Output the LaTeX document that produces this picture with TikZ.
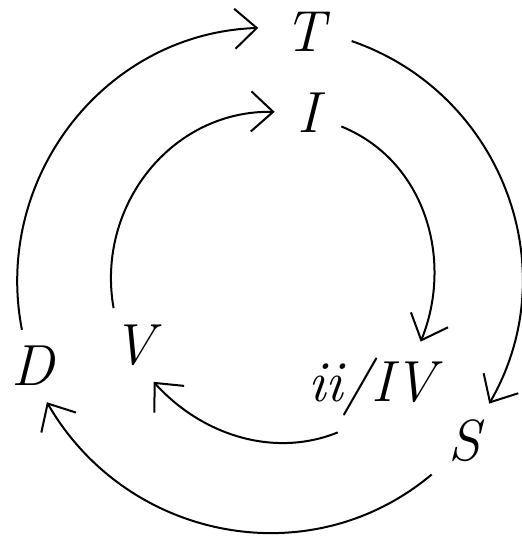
\documentclass[tikz,border=0pt]{standalone}
\usetikzlibrary{arrows.meta}

\begin{document}
\begin{tikzpicture}[x=0.5pt,y=0.5pt,
  chord/.style={font=\fontsize{29}{34}\selectfont\itshape,inner sep=8pt},
  move/.style={line width=1pt,-{Straight Barb[length=11pt,width=20pt]}}]
  \useasboundingbox (0,0) rectangle (522,-538);

  \node[chord,inner xsep=13pt] (T) at (305,-32) {T};
  \node[chord,inner xsep=11pt] (I) at (308,-113) {I};
  \node[chord] (D) at (33,-366) {D};
  \node[chord] (V) at (134,-345) {V};
  \node[chord] (II) at (372,-387) {ii/IV};
  \node[chord] (S) at (464,-441) {S};

  % outer cycle
  \draw[move] (D.107) to[out=101,in=182,looseness=1.03] (T.175);
  \draw[move] (T.-11) to[out=-19,in=60,looseness=1.04] (S.56);
  \draw[move] (S.226) to[out=220,in=-60,looseness=1.04] (D.-69);
  % inner cycle
  \draw[move] (V.119) to[out=100,in=179,looseness=1.04] (I.178);
  \draw[move] (I.-22) to[out=-22,in=68] (II.43);
  \draw[move] (II.233) to[out=202,in=-48,looseness=0.94] (V.-62);
\end{tikzpicture}
\end{document}
